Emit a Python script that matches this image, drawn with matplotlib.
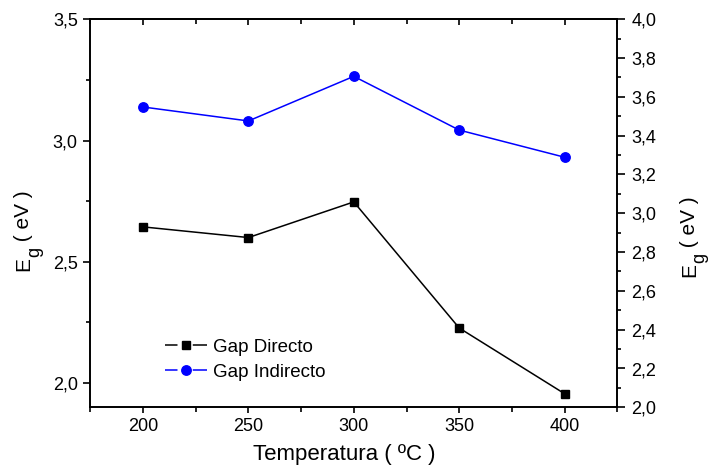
import matplotlib
matplotlib.use("Agg")
import matplotlib.pyplot as plt
from matplotlib.lines import Line2D
from matplotlib.ticker import MultipleLocator, FuncFormatter

plt.rcParams['font.family'] = ['Liberation Sans', 'DejaVu Sans']
plt.rcParams['lines.scale_dashes'] = False

temperatura = [200, 250, 300, 350, 400]
gap_directo = [2.644, 2.600, 2.747, 2.227, 1.956]
gap_indirecto = [3.548, 3.476, 3.706, 3.429, 3.289]

W, H = 709, 467
fig = plt.figure(figsize=(W/100, H/100), dpi=100)
ax = fig.add_axes([90.3/W, 1 - 407.3/H, (617.3-90.3)/W, (407.3-19.3)/H])
ax2 = ax.twinx()

ax.plot(temperatura, gap_directo, color='black', marker='s', markersize=5.6,
        linewidth=1.1)
ax2.plot(temperatura, gap_indirecto, color='blue', marker='o', markersize=6.8,
         linewidth=1.1)

ax.set_xlim(175, 425)
ax.set_ylim(1.9, 3.5)
ax2.set_ylim(2.0, 4.0)

comma1 = FuncFormatter(lambda v, p: f"{v:.1f}".replace('.', ','))
ax.xaxis.set_major_locator(MultipleLocator(50))
ax.xaxis.set_minor_locator(MultipleLocator(25))
ax.yaxis.set_major_locator(MultipleLocator(0.5))
ax.yaxis.set_minor_locator(MultipleLocator(0.25))
ax.yaxis.set_major_formatter(comma1)
ax2.yaxis.set_major_locator(MultipleLocator(0.2))
ax2.yaxis.set_minor_locator(MultipleLocator(0.1))
ax2.yaxis.set_major_formatter(comma1)

ax.tick_params(axis='x', which='both', direction='out', top=False,
               labelsize=13, width=1.2, pad=4)
ax.tick_params(axis='x', which='major', length=4)
ax.tick_params(axis='x', which='minor', length=3.5)
ax.tick_params(axis='y', which='major', length=5, width=1.2, labelsize=13,
               direction='out', pad=4)
ax.tick_params(axis='y', which='minor', length=3, width=1.2, direction='out')
ax2.tick_params(axis='y', which='major', length=5.5, width=1.2, labelsize=13,
                direction='out', pad=4.5)
ax2.tick_params(axis='y', which='minor', length=3, width=1.2, direction='out')

# top ticks pointing inward
sec = ax.secondary_xaxis('top')
sec.xaxis.set_major_locator(MultipleLocator(50))
sec.xaxis.set_minor_locator(MultipleLocator(25))
sec.tick_params(axis='x', which='major', direction='in', length=4, width=1.2,
                labeltop=False)
sec.tick_params(axis='x', which='minor', direction='in', length=3.5, width=1.2)
sec.spines['top'].set_linewidth(1.2)

for a in (ax, ax2):
    for s in a.spines.values():
        s.set_linewidth(1.2)

# x label
fig.text(344.5/W, (H-460)/H, 'Temperatura ( ºC )', fontsize=16,
         ha='center', va='baseline')

# vertical labels E_g ( eV ) with Origin-style large subscript
fig.canvas.draw()
renderer = fig.canvas.get_renderer()


def vlabel(x_img, y_img_start, parts):
    y = H - y_img_start
    for txt, size, dx in parts:
        t = fig.text((x_img + dx)/W, y/H, txt, fontsize=size, rotation=90,
                     rotation_mode='anchor', ha='left', va='baseline')
        bb = t.get_window_extent(renderer)
        y += bb.height


vlabel(29, 271, [('E', 15, 0), ('g', 13, 10), (' ( eV )', 15, 0)])
vlabel(695, 277, [('E', 15, 0), ('g', 13, 9), (' ( eV )', 15, 0)])

# legend with Origin-style broken line around the marker
h1 = Line2D([], [], color='black', marker='s', markersize=5.6, linewidth=1.1,
            linestyle=(0, (9, 11, 40, 1)))
h2 = Line2D([], [], color='blue', marker='o', markersize=6.8, linewidth=1.1,
            linestyle=(0, (9, 11, 40, 1)))
fig.legend(handles=[h1, h2], labels=['Gap Directo', 'Gap Indirecto'],
           loc='center left', bbox_to_anchor=(165/W, (H-359.5)/H),
           frameon=False, fontsize=13.5, handlelength=30/13.5,
           handletextpad=0.33, labelspacing=0.42, borderpad=0,
           borderaxespad=0, numpoints=1)

fig.savefig('out.png', dpi=100)
